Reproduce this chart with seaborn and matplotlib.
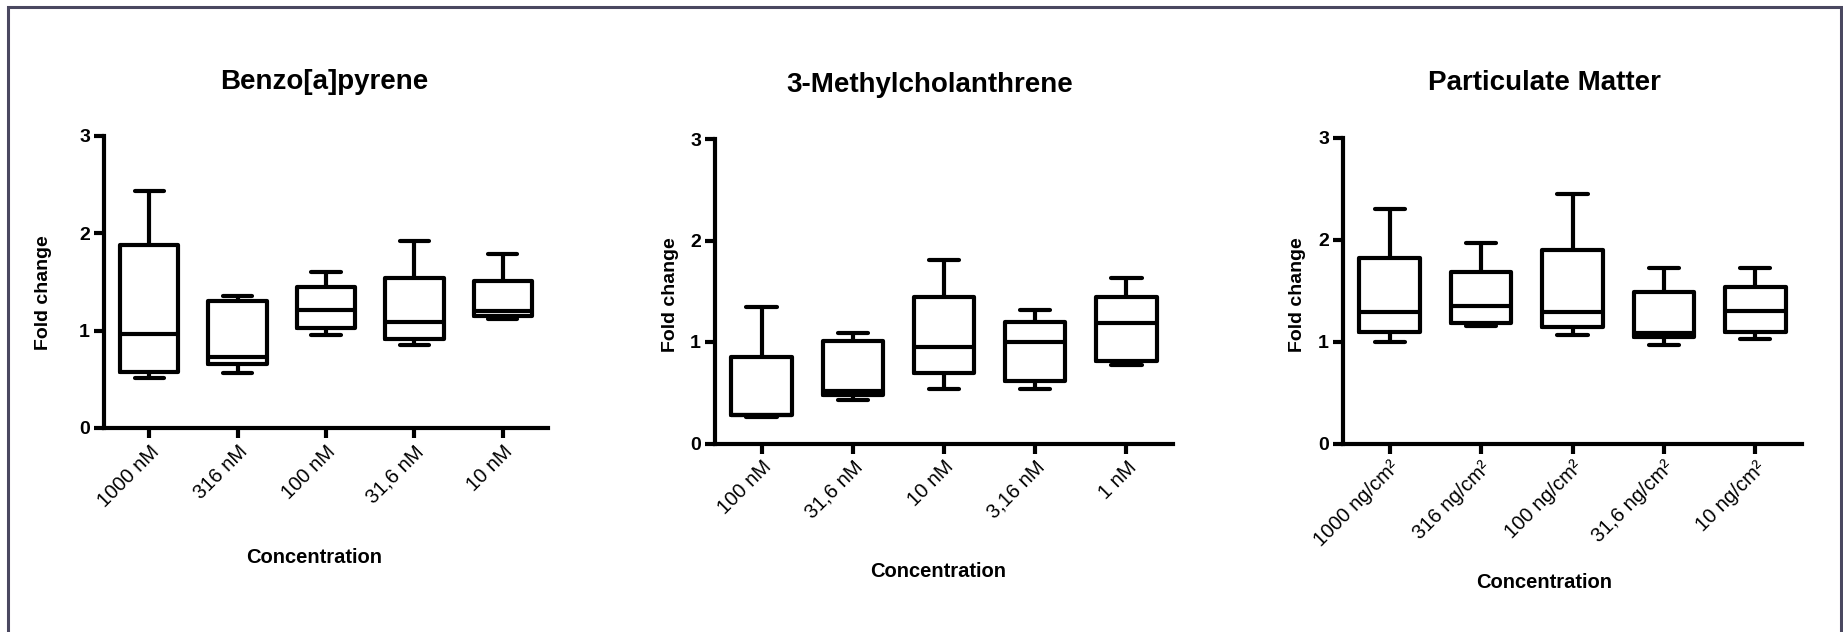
import seaborn as sns
import matplotlib.pyplot as plt
import pandas as pd
from matplotlib.patches import Rectangle

# five-number summaries: min, Q1, median, Q3, max
bap_labels = ['1000 nM', '316 nM', '100 nM', '31,6 nM', '10 nM']
bap_min = [0.51, 0.57, 0.96, 0.85, 1.12]
bap_q1 = [0.58, 0.66, 1.03, 0.91, 1.15]
bap_med = [0.97, 0.73, 1.21, 1.09, 1.20]
bap_q3 = [1.88, 1.30, 1.45, 1.54, 1.51]
bap_max = [2.43, 1.36, 1.60, 1.92, 1.79]

mc_labels = ['100 nM', '31,6 nM', '10 nM', '3,16 nM', '1 nM']
mc_min = [0.26, 0.43, 0.54, 0.54, 0.77]
mc_q1 = [0.28, 0.48, 0.69, 0.62, 0.81]
mc_med = [0.28, 0.52, 0.95, 1.00, 1.19]
mc_q3 = [0.85, 1.01, 1.44, 1.20, 1.44]
mc_max = [1.34, 1.09, 1.81, 1.32, 1.63]

pm_labels = ['1000 ng/cm²', '316 ng/cm²', '100 ng/cm²', '31,6 ng/cm²', '10 ng/cm²']
pm_min = [1.00, 1.16, 1.07, 0.97, 1.03]
pm_q1 = [1.10, 1.19, 1.15, 1.05, 1.10]
pm_med = [1.29, 1.35, 1.29, 1.09, 1.30]
pm_q3 = [1.82, 1.69, 1.90, 1.49, 1.54]
pm_max = [2.30, 1.97, 2.45, 1.73, 1.73]

titles = ['Benzo[a]pyrene', '3-Methylcholanthrene', 'Particulate Matter']

panels = [
    (bap_labels, bap_min, bap_q1, bap_med, bap_q3, bap_max),
    (mc_labels, mc_min, mc_q1, mc_med, mc_q3, mc_max),
    (pm_labels, pm_min, pm_q1, pm_med, pm_q3, pm_max),
]

sns.set_style('white')
plt.rcParams['font.family'] = ['Liberation Sans', 'DejaVu Sans']
plt.rcParams['text.color'] = 'black'
plt.rcParams['axes.labelcolor'] = 'black'
plt.rcParams['xtick.color'] = 'black'
plt.rcParams['ytick.color'] = 'black'

W, H = 1843, 632
fig = plt.figure(figsize=(W / 100, H / 100), dpi=100)

# axes boxes in pixels: left, right, top(y=3), bottom(y=0)
boxes = [(104, 548, 136, 428), (715, 1173, 139, 443.5), (1343, 1802, 138, 444)]
# text placement in axes coords
title_pos = [(0.495, 1.155), (0.469, 1.151), (0.438, 1.152)]
xlab_pos = [(0.473, -0.442), (0.487, -0.422), (0.438, -0.451)]
ylab_pos = [(-0.137, 0.462), (-0.098, 0.488), (-0.100, 0.487)]

lw = 3
for i, (labels, mn, q1, md, q3, mx) in enumerate(panels):
    l, r, t, b = boxes[i]
    ax = fig.add_axes([l / W, 1 - b / H, (r - l) / W, (b - t) / H])

    rows = []
    for lab, a, c, d, e, f in zip(labels, mn, q1, md, q3, mx):
        for v in (a, c, d, e, f):
            rows.append({'conc': lab, 'fold': v})
    df = pd.DataFrame(rows)

    sns.boxplot(data=df, x='conc', y='fold', order=labels, whis=(0, 100),
                fill=False, color='black', linecolor='black', linewidth=lw,
                width=0.66, showfliers=False, ax=ax)

    ax.set_ylim(0, 3)
    ax.set_xlim(-0.51, 4.51)
    ax.set_yticks([0, 1, 2, 3])
    ax.set_yticklabels(['0', '1', '2', '3'], fontsize=14, fontweight='bold')
    ax.set_xticks(range(5))
    ax.set_xticklabels(labels, rotation=45, ha='right', rotation_mode='anchor',
                       fontsize=14.5)
    for s in ['top', 'right']:
        ax.spines[s].set_visible(False)
    for s in ['left', 'bottom']:
        ax.spines[s].set_linewidth(lw)
        ax.spines[s].set_color('black')
    ax.tick_params(axis='both', direction='out', length=7, width=lw,
                   color='black', pad=3, left=True, bottom=True)

    ax.set_title(titles[i], fontsize=20, fontweight='bold',
                 x=title_pos[i][0], y=title_pos[i][1], va='center')
    ax.set_xlabel('Concentration', fontsize=14.5, fontweight='bold')
    ax.xaxis.set_label_coords(*xlab_pos[i])
    ax.xaxis.label.set_va('center')
    ax.set_ylabel('Fold change', fontsize=14, fontweight='bold')
    ax.yaxis.set_label_coords(*ylab_pos[i])
    ax.yaxis.label.set_va('center')

# grey frame around the figure
fig.add_artist(Rectangle((8 / W, -0.05), (1841 - 8) / W, 1.05 - 7 / H,
                         transform=fig.transFigure, fill=False,
                         edgecolor='#4a4860', linewidth=2.2))

fig.savefig('out.png', dpi=100)
